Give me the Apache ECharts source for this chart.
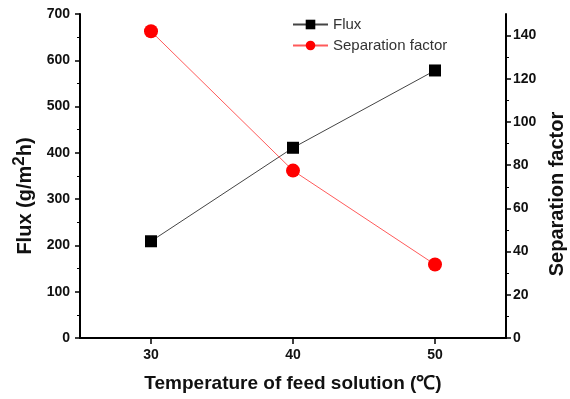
<!DOCTYPE html>
<html>
<head>
<meta charset="utf-8">
<script src="https://cdn.jsdelivr.net/npm/echarts@6/dist/echarts.min.js"></script>
<style>html,body{margin:0;padding:0;background:#fff}#c{width:570px;height:399px}</style>
</head>
<body>
<div id="c"></div>
<script>
var temperatures = [30, 40, 50];
var fluxValues = [209, 411, 578];
var separationValues = [142, 77.5, 34];
var xTickValues = [30, 40, 50];
var sepTickValues = [0, 20, 40, 60, 80, 100, 120, 140];

var FONT = '"Liberation Sans", Arial, sans-serif';
var chart = echarts.init(document.getElementById('c'));
var axisLine = {show: true, lineStyle: {color: '#000', width: 2}};
var labelStyle = {color: '#111', fontWeight: 'bold', fontSize: 14, fontFamily: FONT};
chart.setOption({
  animation: false,
  grid: {left: 80, right: 64, top: 14, bottom: 61, outerBoundsMode: 'none', containLabel: false},
  legend: {
    orient: 'vertical', left: 287, top: 12, itemWidth: 35, itemHeight: 12, itemGap: 6,
    textStyle: {fontSize: 15, color: '#333', fontFamily: FONT},
    data: ['Flux', 'Separation factor']
  },
  xAxis: [{
    type: 'value', min: 25, max: 55, interval: 5, position: 'bottom',
    axisLine: axisLine,
    axisTick: {show: true, inside: false, length: 6, lineStyle: {color: '#000', width: 1.5}, customValues: xTickValues},
    axisLabel: Object.assign({margin: 10, customValues: xTickValues}, labelStyle),
    splitLine: {show: false},
    name: 'Temperature of feed solution (\u2103)', nameLocation: 'middle', nameGap: 36,
    nameTextStyle: {fontSize: 19, fontWeight: 'bold', color: '#111', fontFamily: FONT}
  }, {
    type: 'value', min: 25, max: 55, position: 'top',
    axisLine: axisLine, axisTick: {show: false}, axisLabel: {show: false}, splitLine: {show: false}
  }],
  yAxis: [{
    type: 'value', min: 0, max: 700, interval: 100, position: 'left',
    axisLine: axisLine,
    axisTick: {show: true, length: 5, lineStyle: {color: '#000', width: 1.5}},
    minorTick: {show: true, splitNumber: 2, length: 3, lineStyle: {color: '#000', width: 1}},
    axisLabel: Object.assign({margin: 10}, labelStyle),
    splitLine: {show: false},
    name: '{n|Flux (g/m}{s|2}{n|h)}', nameLocation: 'middle', nameGap: 38, nameRotate: 90,
    nameTextStyle: {
      padding: [0, 40, 0, 0],
      rich: {
        n: {fontSize: 20, fontWeight: 'bold', color: '#111', fontFamily: FONT},
        s: {fontSize: 17, fontWeight: 'bold', color: '#111', fontFamily: FONT, padding: [0, 0, 12, 0]}
      }
    }
  }, {
    type: 'value', min: 0, max: 150, interval: 20, position: 'right',
    axisLine: axisLine,
    axisTick: {show: true, length: 5, lineStyle: {color: '#000', width: 1.5}, customValues: sepTickValues},
    minorTick: {show: true, splitNumber: 2, length: 3, lineStyle: {color: '#000', width: 1}},
    axisLabel: Object.assign({margin: 7, customValues: sepTickValues}, labelStyle),
    splitLine: {show: false},
    name: 'Separation factor', nameLocation: 'middle', nameGap: 34, nameRotate: 90,
    nameTextStyle: {fontSize: 20, fontWeight: 'bold', color: '#111', fontFamily: FONT, padding: [0, 36, 0, 0]}
  }],
  series: [{
    name: 'Flux', type: 'line', xAxisIndex: 0, yAxisIndex: 0,
    data: temperatures.map(function (t, i) { return [t, fluxValues[i]]; }),
    symbol: 'rect', symbolSize: 12,
    lineStyle: {color: '#444', width: 1},
    itemStyle: {color: '#000'}
  }, {
    name: 'Separation factor', type: 'line', xAxisIndex: 0, yAxisIndex: 1,
    data: temperatures.map(function (t, i) { return [t, separationValues[i]]; }),
    symbol: 'circle', symbolSize: 14,
    lineStyle: {color: '#ff5a5a', width: 1},
    itemStyle: {color: '#ff0000'}
  }]
});
</script>
</body>
</html>
